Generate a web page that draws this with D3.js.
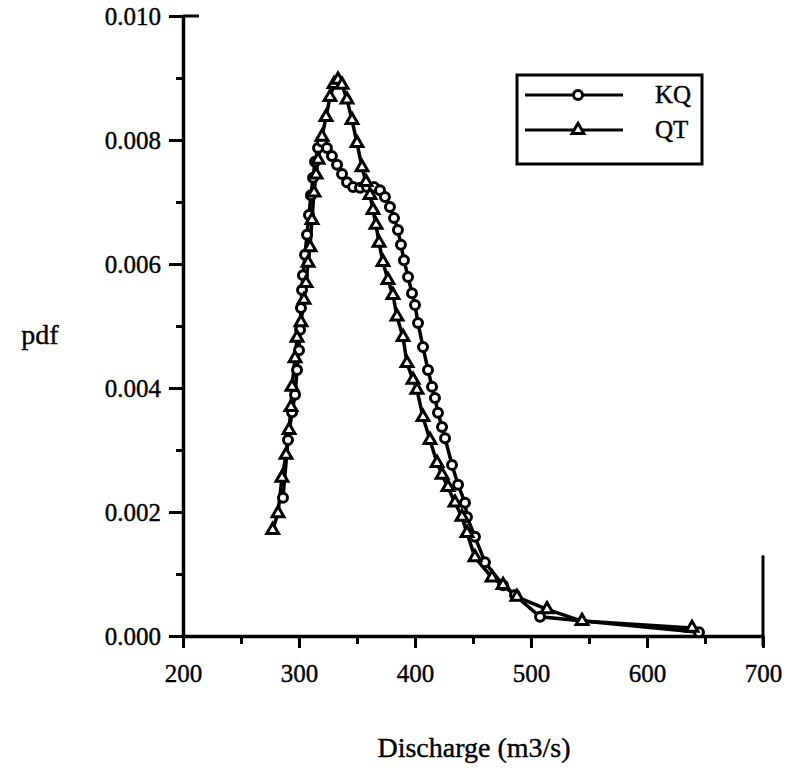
<!DOCTYPE html>
<html>
<head>
<meta charset="utf-8">
<script src="https://cdn.jsdelivr.net/npm/d3@7"></script>
<style>
  body { margin: 0; background: #fff; }
  text { font-family: "Liberation Serif", "DejaVu Serif", serif; fill: #000; stroke: #000; stroke-width: 0.4px; }
</style>
</head>
<body>
<div id="chart"></div>
<script>
// KQ series (circles): discharge, pdf
var kqX = [286.2, 290.5, 294.0, 296.6, 298.3, 300.0, 300.9, 301.7, 302.6, 303.4,
           305.2, 306.9, 308.6, 310.3, 312.1, 313.8, 316.4, 319.8, 324.1, 328.4,
           332.8, 337.1, 341.4, 346.6, 352.6, 358.6, 364.7, 369.8, 374.1, 378.4,
           381.9, 385.3, 387.9, 390.5, 394.0, 397.4, 400.0, 402.6, 406.9, 411.2,
           414.7, 417.2, 419.8, 423.3, 425.9, 431.9, 437.1, 443.1, 444.8, 451.7,
           460.3, 475.9, 486.2, 507.8, 644.8];
var kqY = [0.00223, 0.00316, 0.00361, 0.00389, 0.00429, 0.00461, 0.00494, 0.00529, 0.00558, 0.00582,
           0.00615, 0.00647, 0.00679, 0.00711, 0.00739, 0.00765, 0.00787, 0.00797, 0.00787, 0.00774,
           0.00760, 0.00745, 0.00732, 0.00724, 0.00723, 0.00724, 0.00724, 0.00719, 0.00708, 0.00692,
           0.00674, 0.00655, 0.00631, 0.00606, 0.00579, 0.00553, 0.00534, 0.00505, 0.00466, 0.00429,
           0.00402, 0.00384, 0.00360, 0.00337, 0.00319, 0.00276, 0.00244, 0.00215, 0.00192, 0.00160,
           0.00119, 0.00082, 0.00066, 0.00031, 0.00006];

// QT series (triangles)
var qtX = [277.3, 281.9, 285.3, 288.8, 291.4, 293.1, 294.0, 296.6, 298.3, 301.7,
           304.3, 306.0, 307.8, 309.5, 311.2, 312.9, 314.7, 316.4, 319.8, 323.3,
           326.7, 330.2, 333.6, 337.1, 341.4, 345.7, 350.0, 354.3, 357.8, 361.2,
           363.8, 366.4, 369.0, 372.4, 376.7, 381.0, 384.5, 389.7, 393.1, 398.3,
           401.7, 406.9, 412.9, 419.0, 423.3, 428.4, 434.5, 440.5, 444.8, 451.7,
           466.4, 475.9, 487.9, 513.8, 544.0, 638.8];
var qtY = [0.00171, 0.00198, 0.00255, 0.00292, 0.00332, 0.00369, 0.00402, 0.00448, 0.00481, 0.00506,
           0.00542, 0.00569, 0.00602, 0.00627, 0.00671, 0.00715, 0.00744, 0.00768, 0.00805, 0.00837,
           0.00869, 0.00890, 0.00897, 0.00889, 0.00865, 0.00832, 0.00795, 0.00756, 0.00732, 0.00711,
           0.00687, 0.00663, 0.00634, 0.00603, 0.00574, 0.00550, 0.00515, 0.00482, 0.00440, 0.00413,
           0.00397, 0.00353, 0.00316, 0.00279, 0.00260, 0.00240, 0.00215, 0.00192, 0.00166, 0.00127,
           0.00094, 0.00082, 0.00063, 0.00043, 0.00024, 0.00013];

var xTicks = [200, 300, 400, 500, 600, 700];
var yTicks = [0, 0.002, 0.004, 0.006, 0.008, 0.010];
var seriesNames = ["KQ", "QT"];

var width = 787, height = 770;
var margin = { top: 16, right: 24, bottom: 134, left: 183 };
var chartWidth = width - margin.left - margin.right;
var chartHeight = height - margin.top - margin.bottom;

var svg = d3.select("#chart").append("svg")
    .attr("width", width)
    .attr("height", height);

var chartGroup = svg.append("g")
    .attr("transform", `translate(${margin.left}, ${margin.top})`);

var xScale = d3.scaleLinear().domain([200, 700]).range([0, chartWidth]);
var yScale = d3.scaleLinear().domain([0, 0.010]).range([chartHeight, 0]);

// minor ticks
chartGroup.append("g")
    .attr("transform", `translate(0, ${chartHeight})`)
    .call(d3.axisBottom(xScale).tickValues(d3.range(250, 700, 100)).tickSize(8).tickFormat(""))
    .call(g => g.select(".domain").remove())
    .selectAll("line").attr("stroke-width", 3);

chartGroup.append("g")
    .call(d3.axisLeft(yScale).tickValues(d3.range(0.001, 0.010, 0.002)).tickSize(7).tickFormat(""))
    .call(g => g.select(".domain").remove())
    .selectAll("line").attr("stroke-width", 3);

// major axes
var xAxis = chartGroup.append("g")
    .attr("transform", `translate(0, ${chartHeight})`)
    .call(d3.axisBottom(xScale).tickValues(xTicks).tickSize(12).tickSizeOuter(0).tickPadding(16).tickFormat(d3.format("d")));
xAxis.select(".domain").attr("stroke-width", 3.5);
xAxis.selectAll("line").attr("stroke-width", 3);
xAxis.selectAll("text").style("font-size", "25px");

var yAxis = chartGroup.append("g")
    .call(d3.axisLeft(yScale).tickValues(yTicks).tickSize(14).tickSizeOuter(0).tickPadding(8).tickFormat(d3.format(".3f")));
yAxis.select(".domain").attr("stroke-width", 3.5);
yAxis.selectAll("line").attr("stroke-width", 3);
yAxis.selectAll("text").style("font-size", "25px");

// what is left of the frame: top stub and lower part of the right edge
chartGroup.append("line")
    .attr("x1", 0).attr("x2", 16)
    .attr("y1", yScale(0.010)).attr("y2", yScale(0.010))
    .attr("stroke", "#000").attr("stroke-width", 3);
chartGroup.append("line")
    .attr("x1", xScale(700)).attr("x2", xScale(700))
    .attr("y1", yScale(0) + 10).attr("y2", yScale(0.0013))
    .attr("stroke", "#000").attr("stroke-width", 3);

// axis labels
svg.append("text")
    .attr("x", 40).attr("y", 344)
    .attr("text-anchor", "middle")
    .style("font-size", "28px")
    .text("pdf");

svg.append("text")
    .attr("x", 474).attr("y", 757)
    .attr("text-anchor", "middle")
    .style("font-size", "28px")
    .text("Discharge (m3/s)");

var kqData = kqX.map((d, i) => [d, kqY[i]]);
var qtData = qtX.map((d, i) => [d, qtY[i]]);

var line = d3.line().x(d => xScale(d[0])).y(d => yScale(d[1]));

chartGroup.append("path").datum(kqData)
    .attr("d", line).attr("fill", "none").attr("stroke", "#000").attr("stroke-width", 3.5);
chartGroup.append("path").datum(qtData)
    .attr("d", line).attr("fill", "none").attr("stroke", "#000").attr("stroke-width", 3.5);

var tri = d3.symbol().type(d3.symbolTriangle).size(60);

chartGroup.selectAll(".kq")
    .data(kqData)
    .enter()
    .append("circle")
    .attr("class", "kq")
    .attr("cx", d => xScale(d[0]))
    .attr("cy", d => yScale(d[1]))
    .attr("r", 4.5)
    .attr("fill", "#fff")
    .attr("stroke", "#000")
    .attr("stroke-width", 3);

chartGroup.selectAll(".qt")
    .data(qtData)
    .enter()
    .append("path")
    .attr("class", "qt")
    .attr("d", tri)
    .attr("transform", d => `translate(${xScale(d[0])}, ${yScale(d[1])})`)
    .attr("fill", "#fff")
    .attr("stroke", "#000")
    .attr("stroke-width", 3);

// legend
var legend = svg.append("g");
legend.append("rect")
    .attr("x", 517).attr("y", 75).attr("width", 185).attr("height", 89)
    .attr("fill", "#fff").attr("stroke", "#000").attr("stroke-width", 3);

seriesNames.forEach(function(name, i) {
    var ly = 95 + i * 35;
    legend.append("line")
        .attr("x1", 525).attr("x2", 623).attr("y1", ly).attr("y2", ly)
        .attr("stroke", "#000").attr("stroke-width", 3);
    if (i === 0) {
        legend.append("circle").attr("cx", 578).attr("cy", ly).attr("r", 4.5)
            .attr("fill", "#fff").attr("stroke", "#000").attr("stroke-width", 3);
    } else {
        legend.append("path").attr("d", tri)
            .attr("transform", `translate(578, ${ly})`)
            .attr("fill", "#fff").attr("stroke", "#000").attr("stroke-width", 3);
    }
    legend.append("text")
        .attr("x", 655).attr("y", ly + 8)
        .style("font-size", "25px")
        .text(name);
});
</script>
</body>
</html>
